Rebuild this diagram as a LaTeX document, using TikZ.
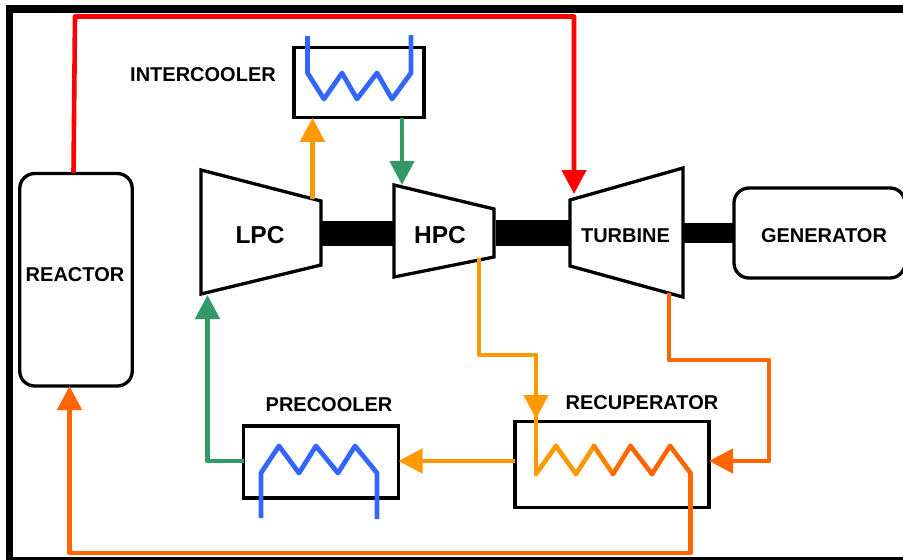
\documentclass[tikz,border=0pt]{standalone}
\usepackage{fontspec}
\setmainfont{Liberation Sans}
\usetikzlibrary{arrows.meta,calc}
\definecolor{warmflow}{HTML}{FF9900}
\definecolor{hotflow}{HTML}{FF6600}
\definecolor{coldflow}{HTML}{339966}
\definecolor{coolant}{HTML}{3366FF}
\definecolor{hightemp}{HTML}{FF0000}
\tikzset{
  x=1pt,y=-1pt,
  box/.style={draw=black,line width=3.3pt,fill=white,inner sep=0pt,outer sep=0pt},
  vessel/.style={box,rounded corners=15pt},
  machine/.style={draw=black,line width=3.3pt,fill=white,line join=miter},
  shaft/.style={fill=black,draw=none},
  label/.style={font=\bfseries\fontsize{20}{24}\selectfont,inner sep=0pt,text=black},
  biglabel/.style={font=\bfseries\fontsize{24.5}{28}\selectfont,inner sep=0pt,text=black},
  flow/.style={line width=4.6pt,line join=round,-{Triangle[length=24pt,width=24pt]}},
  pipe/.style={line width=4.6pt,line join=round},
  coil/.style={line width=4.8pt,line join=round,draw=coolant},
  seg/.style={line width=4.6pt,line cap=round},
}
\begin{document}
\begin{tikzpicture}
\useasboundingbox (0,0) rectangle (903,560);
\clip (0,0) rectangle (903,560);
% outer frame
\fill[black] (6,5) rectangle (903,13);
\fill[black] (6,5) rectangle (13,560);
\fill[black] (6,557) rectangle (903,560);
% named points
\coordinate (lpcTL) at (201,170);
\coordinate (lpcTR) at (321,201);
\coordinate (lpcBR) at (321,265);
\coordinate (lpcBL) at (201,294);
\coordinate (hpcTL) at (394,185);
\coordinate (hpcTR) at (494,209);
\coordinate (hpcBR) at (494,257);
\coordinate (hpcBL) at (394,277);
\coordinate (turTL) at (570,200);
\coordinate (turTR) at (683,168);
\coordinate (turBR) at (683,297);
\coordinate (turBL) at (570,266);
% shafts
\fill[shaft] (319,220.5) rectangle (396,245.5);
\fill[shaft] (496,220) rectangle (572,245.5);
\fill[shaft] (681,222.5) rectangle (736,243);
% equipment
\node[vessel,minimum width=112.5pt,minimum height=212.5pt] (reactor) at (76,279.75) {};
\node[vessel,minimum width=171pt,minimum height=90pt] (generator) at (819.5,233) {};
\node[box,minimum width=130pt,minimum height=70.5pt] (intercooler) at (359,82.5) {};
\node[box,minimum width=155pt,minimum height=72pt] (precooler) at (321,462) {};
\node[box,minimum width=194pt,minimum height=85.5pt] (recuperator) at (612,464.5) {};
\draw[machine] (lpcTL) -- (lpcTR) -- (lpcBR) -- (lpcBL) -- cycle;
\draw[machine] (hpcTL) -- (hpcTR) -- (hpcBR) -- (hpcBL) -- cycle;
\draw[machine] (turTL) -- (turTR) -- (turBR) -- (turBL) -- cycle;
% points on the pipes
\coordinate (redA) at (73.5,173);
\coordinate (redB) at (75,16.5);
\coordinate (redC) at (574,16.5);
\coordinate (redD) at (574,194);
\coordinate (lpcOut) at (312.5,199);
\coordinate (hpcIn) at (402,185);
\coordinate (hpcOut) at (479,258);
\coordinate (hA) at (479,355);
\coordinate (hB) at (536,355);
\coordinate (hTip) at (536,419);
\coordinate (z0) at (536,474);
\coordinate (z1) at (556,446);
\coordinate (z2) at (576,474);
\coordinate (z3) at (594,446);
\coordinate (z4) at (613,474);
\coordinate (z5) at (630.5,446);
\coordinate (z6) at (652,474);
\coordinate (z7) at (670,446);
\coordinate (z8) at (690.5,473);
\coordinate (z9) at (690.5,553);
\coordinate (z10) at (69.5,553);
\coordinate (turOut) at (669,293);
\coordinate (tA) at (669,360);
\coordinate (tB) at (769,360);
\coordinate (tC) at (769,461);
\coordinate (lpcIn) at (207.5,295);
\coordinate (gA) at (207.5,461);
% flows
\draw[flow,draw=hightemp] (redA) -- (redB) -- (redC) -- (redD);
\draw[flow,draw=warmflow] (lpcOut) -- (lpcOut |- intercooler.south);
\draw[flow,draw=coldflow] (hpcIn |- intercooler.south) -- (hpcIn);
\draw[pipe,draw=warmflow] (hB) -- (z0);
\draw[flow,draw=warmflow] (hpcOut) -- (hA) -- (hB) -- (hTip);
\draw[seg,warmflow] (z0) -- (z1);
\draw[seg,warmflow] (z1) -- (z2);
\draw[seg,warmflow] (z2) -- (z3);
\draw[seg,hotflow!50!warmflow] (z3) -- (z4);
\draw[seg,hotflow!90!warmflow] (z4) -- (z5);
\draw[seg,hotflow] (z5) -- (z6);
\draw[seg,hotflow] (z6) -- (z7);
\draw[seg,hotflow] (z7) -- (z8);
\draw[flow,draw=hotflow] (z8) -- (z9) -- (z10) -- (z10 |- reactor.south);
\draw[flow,draw=hotflow] (turOut) -- (tA) -- (tB) -- (tC) -- (recuperator.east |- tC);
\draw[flow,draw=warmflow] (recuperator.west |- tC) -- (precooler.east |- tC);
\draw[flow,draw=coldflow] (precooler.west |- gA) -- (gA) -- (lpcIn);
% coolant coils
\draw[coil] (307.5,36) -- (307.5,73) -- (324,99) -- (342,73) -- (357,99) -- (377,73) -- (392,99) -- (411,73) -- (411,35);
\draw[coil] (261,518) -- (261,473) -- (279,446) -- (299,473) -- (316,446) -- (338,473) -- (355,446) -- (377,473) -- (377,519);
% labels
\node[label] (reactorText) at (75,274.5) {REACTOR};
\node[biglabel] (lpcText) at (260,235) {LPC};
\node[biglabel] (hpcText) at (440,235) {HPC};
\node[label] (turbineText) at (625.5,235.5) {TURBINE};
\node[label] (generatorText) at (824,236) {GENERATOR};
\node[label] (intercoolerText) at (203,74.5) {INTERCOOLER};
\node[label] (precoolerText) at (329,405) {PRECOOLER};
\node[label] (recuperatorText) at (642,403) {RECUPERATOR};
\end{tikzpicture}
\end{document}
